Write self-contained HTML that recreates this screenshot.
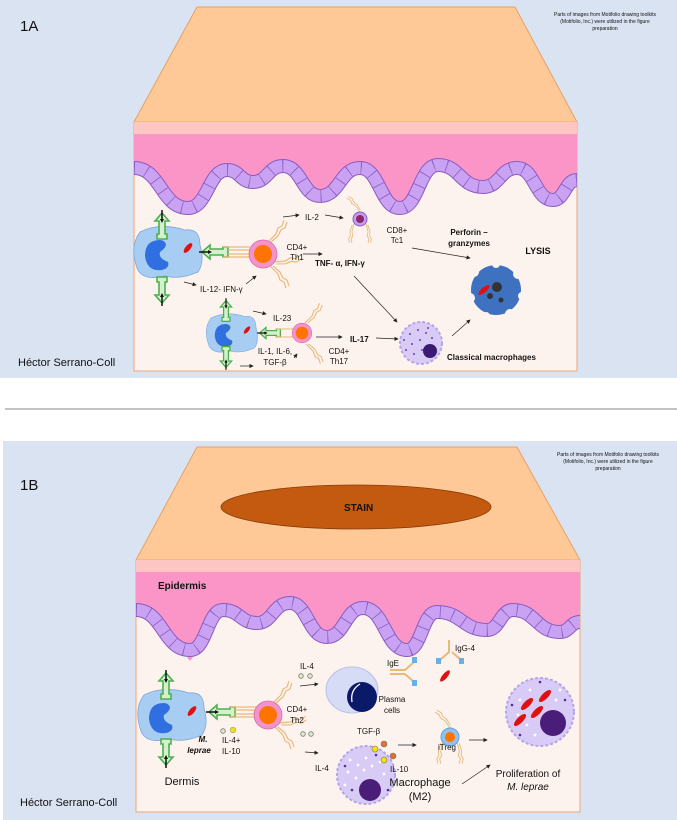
<!DOCTYPE html>
<html><head><meta charset="utf-8"><style>
html,body{margin:0;padding:0;background:#fff}
svg{display:block}
text{font-family:"Liberation Sans",sans-serif;fill:#111}
.s{font-size:8px}
.b{font-weight:bold}
</style></head><body>
<svg width="677" height="820" viewBox="0 0 677 820" xmlns="http://www.w3.org/2000/svg">
<defs>
<marker id="ah" markerWidth="6" markerHeight="6" refX="5" refY="3" orient="auto"><path d="M0,0 L6,3 L0,6 Z" fill="#222"/></marker>
<g id="garrow">
<polygon points="0,-13 7,-5 3,-5 3,8 5,8 5,13 -5,13 -5,8 -3,8 -3,-5 -7,-5" fill="#d4f0cc" stroke="#4caf50" stroke-width="1.6"/>
<line x1="0" y1="-16" x2="0" y2="-5" stroke="#111" stroke-width="1.5"/>
<path d="M-2,-7 L0,-3 L2,-7 Z" fill="#111"/>
</g>
<g id="dc">
<path d="M-28,-20 Q-8,-30 17,-22 Q32,-24 32,-7 Q37,10 30,20 Q12,28 -3,24 Q-28,30 -32,13 Q-38,-7 -28,-20 Z" fill="#a8cdf3" stroke="#7fa8d8" stroke-width="0.8"/>
<path d="M-8,-12 Q-23,-12 -23,4 Q-21,20 -6,18 Q2,16 0,10 Q-10,6 -8,0 Q-2,-4 -2,-8 Q-4,-12 -8,-12 Z" fill="#2f6fe0"/>
<ellipse cx="20" cy="-4" rx="6" ry="2.5" transform="rotate(-50 20 -4)" fill="#e01010"/>
</g>
<g id="tcell">
<circle r="14" fill="#f493cb" stroke="#d86aa8" stroke-width="0.8"/>
<circle r="9" fill="#ff7300"/>
</g>
<g id="ant" fill="none" stroke="#e9b97c" stroke-width="1.2">
<path d="M0,0 L8,-8 L10,-14 L14,-16 L16,-22 M3,0 L10,-6 L13,-12 L17,-14 L19,-20"/>
</g>
<path id="waveA" d="M134,168 C161,168 161,208 188,208 C208,208 208,170 227,170 C240,170 240,182 253,182 C268,182 268,166 283,166 C302,166 302,196 320,196 C340,196 340,168 360,168 C380,168 380,208 400,208 C419,208 419,165 438,165 C460,165 460,187 483,187 C500,187 500,168 517,168 C535,168 535,200 553,200 C565,200 565,180 577,180"/>
<path id="waveB" d="M136,610 C163,610 163,650 190,650 C207,650 207,610 223,610 C240,610 240,623 257,623 C273,623 273,603 290,603 C308,603 308,637 327,637 C345,637 345,608 363,608 C385,608 385,650 407,650 C422,650 422,612 437,612 C462,612 462,630 487,630 C500,630 500,610 513,610 C536,610 536,632 560,632 C570,632 570,622 580,622"/>
</defs>

<!-- PANEL A -->
<rect x="0" y="0" width="677" height="378" fill="#d9e3f2"/>
<polygon points="197,7 515,7 577,122 134,122" fill="#fec996" stroke="#e9a066" stroke-width="1"/>
<rect x="134" y="122" width="443" height="249" fill="#fdf3ee" stroke="#eea777" stroke-width="1"/>
<rect x="134" y="122" width="443" height="12" fill="#fdc6c2"/>
<path d="M134,134 L134,168 C161,168 161,208 188,208 C208,208 208,170 227,170 C240,170 240,182 253,182 C268,182 268,166 283,166 C302,166 302,196 320,196 C340,196 340,168 360,168 C380,168 380,208 400,208 C419,208 419,165 438,165 C460,165 460,187 483,187 C500,187 500,168 517,168 C535,168 535,200 553,200 C565,200 565,180 577,180 L577,134 Z" fill="#fb95c7"/>
<g fill="none">
<use href="#waveA" stroke="#8a5bc0" stroke-width="14"/>
<use href="#waveA" stroke="#c9a2f3" stroke-width="12"/>
<use href="#waveA" stroke="#8a5bc0" stroke-width="12" stroke-dasharray="0.8 12"/>
</g>
<text x="20" y="31" style="font-size:15px">1A</text>
<text x="605" y="16" text-anchor="middle" style="font-size:5px">Parts of images from Motifolio drawing toolkits</text>
<text x="605" y="23" text-anchor="middle" style="font-size:5px">(Motifolio, Inc.) were utilized in the figure</text>
<text x="605" y="30" text-anchor="middle" style="font-size:5px">preparation</text>
<text x="18" y="366" style="font-size:11px">Héctor Serrano-Coll</text>

<!-- cells A -->
<use href="#dc" x="168" y="252"/>
<use href="#garrow" x="162" y="226"/>
<use href="#garrow" transform="translate(162,290) rotate(180)"/>
<use href="#garrow" transform="translate(215,252) rotate(-90)"/>
<g fill="none" stroke="#e9b97c" stroke-width="1.2"><path d="M223,247 L250,247 M223,257 L250,257 M228,250 L250,250 M228,254 L250,254"/></g>
<use href="#ant" x="268" y="242"/><use href="#ant" transform="translate(270,266) scale(1,-1)"/>
<use href="#ant" transform="translate(274,262) rotate(40)"/>
<use href="#tcell" x="263" y="254"/>
<use href="#ant" transform="translate(360,212) rotate(-80) scale(0.7)"/>
<use href="#ant" transform="translate(354,224) rotate(150) scale(0.7)"/>
<use href="#ant" transform="translate(366,224) rotate(30) scale(0.7,-0.7)"/>
<circle cx="360" cy="219" r="7" fill="#c59cf0" stroke="#8a5bc0"/>
<circle cx="360" cy="219" r="4" fill="#8a2a6a"/>
<g>
<circle cx="496" cy="290" r="25" fill="#3e72c0"/>
<circle cx="474" cy="272" r="5" fill="#fdf3ee"/><circle cx="496" cy="264" r="4" fill="#fdf3ee"/>
<circle cx="518" cy="274" r="5" fill="#fdf3ee"/><circle cx="522" cy="296" r="4" fill="#fdf3ee"/>
<circle cx="510" cy="314" r="5" fill="#fdf3ee"/><circle cx="486" cy="316" r="4" fill="#fdf3ee"/>
<circle cx="470" cy="298" r="5" fill="#fdf3ee"/>
<circle cx="497" cy="287" r="5" fill="#333"/><circle cx="490" cy="296" r="3" fill="#333"/><circle cx="501" cy="300" r="2.5" fill="#333"/>
<ellipse cx="484" cy="290" rx="7" ry="2.5" transform="rotate(-40 484 290)" fill="#e01010"/>
</g>
<g transform="translate(232,333) scale(0.75)"><use href="#dc"/></g>
<use href="#garrow" transform="translate(226,311) scale(0.8)"/>
<use href="#garrow" transform="translate(226,357) rotate(180) scale(0.8)"/>
<use href="#garrow" transform="translate(270,333) rotate(-90) scale(0.8)"/>
<g fill="none" stroke="#e9b97c" stroke-width="1.1"><path d="M276,329 L295,329 M276,337 L295,337"/></g>
<use href="#ant" transform="translate(305,323) scale(0.9)"/>
<use href="#ant" transform="translate(306,344) scale(0.9,-0.9)"/>
<g transform="translate(302,333) scale(0.7)"><use href="#tcell"/></g>
<circle cx="421" cy="343" r="21" fill="#d8cbf6" stroke="#b7a3ea" stroke-width="2" stroke-dasharray="3 2"/>
<g fill="#6a3fb0"><circle cx="410" cy="334" r="1"/><circle cx="418" cy="330" r="1"/><circle cx="426" cy="333" r="1"/><circle cx="412" cy="344" r="1"/><circle cx="420" cy="340" r="1"/><circle cx="406" cy="350" r="1"/><circle cx="414" cy="354" r="1"/><circle cx="432" cy="338" r="1"/><circle cx="422" cy="350" r="1"/><circle cx="428" cy="328" r="1"/><circle cx="404" cy="340" r="1"/></g>
<circle cx="430" cy="351" r="7" fill="#3a1a72"/>

<g stroke="#222" stroke-width="0.7" marker-end="url(#ah)">
<line x1="283" y1="217" x2="299" y2="215"/>
<line x1="325" y1="215" x2="343" y2="218"/>
<line x1="303" y1="254" x2="322" y2="254"/>
<line x1="412" y1="248" x2="470" y2="258"/>
<line x1="354" y1="276" x2="397" y2="322"/>
<line x1="184" y1="282" x2="196" y2="285"/>
<line x1="246" y1="284" x2="256" y2="276"/>
<line x1="253" y1="311" x2="266" y2="314"/>
<line x1="316" y1="337" x2="342" y2="337"/>
<line x1="376" y1="338" x2="398" y2="339"/>
<line x1="452" y1="336" x2="470" y2="320"/>
<line x1="240" y1="366" x2="253" y2="366"/>
<line x1="294" y1="358" x2="297" y2="354"/>
</g>
<text x="305" y="220" class="s">IL-2</text>
<text x="297" y="250" class="s" text-anchor="middle">CD4+</text>
<text x="297" y="260" class="s" text-anchor="middle">Th1</text>
<text x="315" y="266" class="s b">TNF- α, IFN-γ</text>
<text x="200" y="292" class="s">IL-12- IFN-γ</text>
<text x="397" y="233" class="s" text-anchor="middle">CD8+</text>
<text x="397" y="243" class="s" text-anchor="middle">Tc1</text>
<text x="469" y="235" class="s b" text-anchor="middle">Perforin –</text>
<text x="469" y="246" class="s b" text-anchor="middle">granzymes</text>
<text x="538" y="254" class="b" text-anchor="middle" style="font-size:9px">LYSIS</text>
<text x="273" y="321" class="s">IL-23</text>
<text x="350" y="342" class="s b">IL-17</text>
<text x="339" y="354" class="s" text-anchor="middle">CD4+</text>
<text x="339" y="364" class="s" text-anchor="middle">Th17</text>
<text x="275" y="354" class="s" text-anchor="middle">IL-1, IL-6,</text>
<text x="275" y="365" class="s" text-anchor="middle">TGF-β</text>
<text x="447" y="360" class="s b">Classical macrophages</text>

<line x1="5" y1="409" x2="677" y2="409" stroke="#888" stroke-width="1"/>

<!-- PANEL B -->
<rect x="3" y="441" width="674" height="379" fill="#d9e3f2"/>
<polygon points="197,447 517,447 580,560 136,560" fill="#fec996" stroke="#e9a066" stroke-width="1"/>
<ellipse cx="356" cy="507" rx="135" ry="22" fill="#c45a10" stroke="#8a3a08" stroke-width="0.8"/>
<text x="344" y="511" class="b" style="font-size:10px">STAIN</text>
<rect x="136" y="560" width="444" height="252" fill="#fdf3ee" stroke="#eea777" stroke-width="1"/>
<rect x="136" y="560" width="444" height="12" fill="#fdc6c2"/>
<path d="M136,572 L136,610 C163,610 163,650 190,650 C207,650 207,610 223,610 C240,610 240,623 257,623 C273,623 273,603 290,603 C308,603 308,637 327,637 C345,637 345,608 363,608 C385,608 385,650 407,650 C422,650 422,612 437,612 C462,612 462,630 487,630 C500,630 500,610 513,610 C536,610 536,632 560,632 C570,632 570,622 580,622 L580,572 Z" fill="#fb95c7"/>
<g fill="none">
<use href="#waveB" stroke="#8a5bc0" stroke-width="14"/>
<use href="#waveB" stroke="#c9a2f3" stroke-width="12"/>
<use href="#waveB" stroke="#8a5bc0" stroke-width="12" stroke-dasharray="0.8 12"/>
</g>
<polygon points="187,657 193,657 190,661" fill="#fb95c7"/>
<text x="158" y="589" class="b" style="font-size:10px">Epidermis</text>
<text x="20" y="490" style="font-size:15px">1B</text>
<text x="608" y="456" text-anchor="middle" style="font-size:5px">Parts of images from Motifolio drawing toolkits</text>
<text x="608" y="463" text-anchor="middle" style="font-size:5px">(Motifolio, Inc.) were utilized in the figure</text>
<text x="608" y="470" text-anchor="middle" style="font-size:5px">preparation</text>
<text x="20" y="806" style="font-size:11px">Héctor Serrano-Coll</text>

<use href="#dc" x="172" y="715"/>
<use href="#garrow" x="166" y="686"/>
<use href="#garrow" transform="translate(166,752) rotate(180)"/>
<use href="#garrow" transform="translate(222,712) rotate(-90)"/>
<g fill="none" stroke="#e9b97c" stroke-width="1.2"><path d="M229,707 L256,707 M229,717 L256,717 M234,710 L256,710 M234,714 L256,714"/></g>
<use href="#ant" x="273" y="703"/><use href="#ant" transform="translate(275,727) scale(1,-1)"/>
<use href="#ant" transform="translate(279,723) rotate(40)"/>
<use href="#tcell" x="268" y="715"/>
<ellipse cx="352" cy="690" rx="26" ry="23" fill="#d6dcf6" stroke="#b8c0ea"/>
<circle cx="362" cy="697" r="15" fill="#0b1a68"/>
<path d="M352,702 Q350,690 360,684" stroke="#fff" stroke-width="1.3" fill="none"/>
<g stroke="#e9b97c" stroke-width="2" fill="none"><path d="M390,670 L405,670 L414,662 M405,674 L414,682 M390,674 L405,674"/><path d="M449,640 L449,652 L440,660 M452,652 L461,660"/></g>
<g fill="#6ab0e8"><rect x="412" y="657" width="5" height="6"/><rect x="412" y="680" width="5" height="6"/><rect x="436" y="658" width="5" height="6"/><rect x="459" y="658" width="5" height="6"/></g>
<ellipse cx="445" cy="676" rx="7" ry="2.5" transform="rotate(-50 445 676)" fill="#e01010"/>
<use href="#ant" transform="translate(450,728) rotate(-80) scale(0.8)"/>
<use href="#ant" transform="translate(443,742) rotate(150) scale(0.8)"/>
<use href="#ant" transform="translate(457,742) rotate(30) scale(0.8,-0.8)"/>
<circle cx="450" cy="737" r="9" fill="#8fc2f1" stroke="#6aa0d8"/>
<circle cx="450" cy="737" r="5" fill="#ff7300"/>
<circle cx="366" cy="775" r="29" fill="#d8cbf6" stroke="#b7a3ea" stroke-width="2" stroke-dasharray="3 2"/>
<g fill="#fff"><circle cx="350" cy="760" r="1.4"/><circle cx="358" cy="765" r="1.4"/><circle cx="348" cy="772" r="1.4"/><circle cx="356" cy="778" r="1.4"/><circle cx="366" cy="758" r="1.4"/><circle cx="372" cy="766" r="1.4"/><circle cx="380" cy="762" r="1.4"/><circle cx="364" cy="770" r="1.4"/><circle cx="345" cy="785" r="1.4"/><circle cx="384" cy="774" r="1.4"/></g>
<g fill="#5a2aa0"><circle cx="345" cy="766" r="1.3"/><circle cx="376" cy="755" r="1.3"/><circle cx="352" cy="790" r="1.3"/><circle cx="388" cy="790" r="1.3"/></g>
<circle cx="370" cy="790" r="11" fill="#4a1e78"/>
<circle cx="540" cy="712" r="34" fill="#d8cbf6" stroke="#b7a3ea" stroke-width="2" stroke-dasharray="3 2"/>
<g fill="#fff"><circle cx="520" cy="700" r="1.4"/><circle cx="530" cy="690" r="1.4"/><circle cx="518" cy="715" r="1.4"/><circle cx="527" cy="725" r="1.4"/><circle cx="545" cy="695" r="1.4"/><circle cx="556" cy="700" r="1.4"/><circle cx="535" cy="735" r="1.4"/><circle cx="560" cy="690" r="1.4"/></g>
<g fill="#5a2aa0"><circle cx="512" cy="705" r="1.3"/><circle cx="565" cy="700" r="1.3"/><circle cx="520" cy="735" r="1.3"/><circle cx="540" cy="682" r="1.3"/></g>
<g fill="#e01010"><ellipse cx="527" cy="704" rx="8" ry="3" transform="rotate(-45 527 704)"/><ellipse cx="545" cy="696" rx="8" ry="3" transform="rotate(-45 545 696)"/><ellipse cx="537" cy="712" rx="8" ry="3" transform="rotate(-45 537 712)"/><ellipse cx="520" cy="720" rx="8" ry="3" transform="rotate(-45 520 720)"/></g>
<circle cx="553" cy="723" r="13" fill="#4a1e78"/>
<g stroke="#777" stroke-width="0.8" fill="#dcecc8"><circle cx="301" cy="676" r="2.3"/><circle cx="310" cy="676" r="2.3"/><circle cx="303" cy="734" r="2.3"/><circle cx="311" cy="734" r="2.3"/><circle cx="223" cy="731" r="2.3"/></g>
<circle cx="233" cy="730" r="2.8" fill="#f5e400" stroke="#999" stroke-width="0.6"/>
<g stroke="#777" stroke-width="0.6"><circle cx="375" cy="749" r="3" fill="#f5e400"/><circle cx="384" cy="744" r="3" fill="#e07030"/><circle cx="384" cy="760" r="3" fill="#f5e400"/><circle cx="393" cy="756" r="3" fill="#e07030"/></g>
<g stroke="#222" stroke-width="0.7" marker-end="url(#ah)">
<line x1="300" y1="686" x2="318" y2="684"/>
<line x1="305" y1="752" x2="318" y2="753"/>
<line x1="398" y1="745" x2="416" y2="745"/>
<line x1="469" y1="740" x2="487" y2="740"/>
<line x1="462" y1="784" x2="490" y2="765"/>
</g>
<text x="300" y="669" class="s">IL-4</text>
<text x="297" y="712" class="s" text-anchor="middle">CD4+</text>
<text x="297" y="723" class="s" text-anchor="middle">Th2</text>
<text x="315" y="771" class="s">IL-4</text>
<text x="222" y="743" class="s">IL-4+</text>
<text x="222" y="754" class="s">IL-10</text>
<text x="203" y="742" class="s b" style="font-style:italic" text-anchor="middle">M.</text>
<text x="199" y="753" class="s b" style="font-style:italic" text-anchor="middle">leprae</text>
<text x="182" y="785" text-anchor="middle" style="font-size:11px">Dermis</text>
<text x="392" y="702" class="s" text-anchor="middle">Plasma</text>
<text x="392" y="713" class="s" text-anchor="middle">cells</text>
<text x="387" y="666" class="s">IgE</text>
<text x="455" y="651" class="s">IgG-4</text>
<text x="357" y="734" class="s">TGF-β</text>
<text x="390" y="772" class="s">IL-10</text>
<text x="447" y="750" class="s" text-anchor="middle">iTreg</text>
<text x="420" y="786" text-anchor="middle" style="font-size:11px">Macrophage</text>
<text x="420" y="800" text-anchor="middle" style="font-size:11px">(M2)</text>
<text x="528" y="777" text-anchor="middle" style="font-size:10px">Proliferation of</text>
<text x="528" y="790" text-anchor="middle" style="font-size:10px;font-style:italic">M. leprae</text>
</svg>
</body></html>
